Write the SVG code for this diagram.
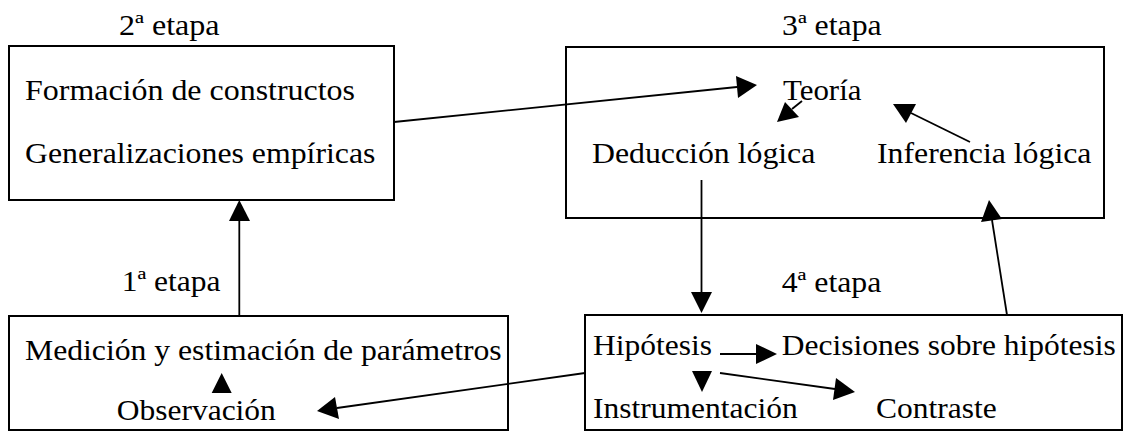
<svg xmlns="http://www.w3.org/2000/svg" width="1126" height="431" viewBox="0 0 1126 431">
<rect width="1126" height="431" fill="#fff"/>
<g id="etapa2">
<rect x="9" y="46" width="385" height="154" fill="#fff" stroke="#000" stroke-width="2"/>
<text font-family="Liberation Serif" font-size="30" transform="translate(119,35) scale(1.07,1)">2ª etapa</text>
<text font-family="Liberation Serif" font-size="30" transform="translate(25,100) scale(1.065,1)">Formación de constructos</text>
<text font-family="Liberation Serif" font-size="30" transform="translate(25,163) scale(1.06,1)">Generalizaciones empíricas</text>
</g>
<g id="etapa3">
<rect x="566" y="47" width="538" height="171" fill="#fff" stroke="#000" stroke-width="2"/>
<text font-family="Liberation Serif" font-size="30" transform="translate(782,35) scale(1.06,1)">3ª etapa</text>
<text font-family="Liberation Serif" font-size="30" transform="translate(783,99.5) scale(1.03,1)">Teoría</text>
<text font-family="Liberation Serif" font-size="30" transform="translate(592,163) scale(1.06,1)">Deducción lógica</text>
<text font-family="Liberation Serif" font-size="30" transform="translate(877,163) scale(1.06,1)">Inferencia lógica</text>
</g>
<g id="etapa1">
<rect x="9" y="316" width="499" height="114" fill="#fff" stroke="#000" stroke-width="2"/>
<text font-family="Liberation Serif" font-size="30" transform="translate(121.7,291) scale(1.05,1)">1ª etapa</text>
<text font-family="Liberation Serif" font-size="30" transform="translate(25,360) scale(1.056,1)">Medición y estimación de parámetros</text>
<text font-family="Liberation Serif" font-size="30" transform="translate(116.7,420) scale(1.05,1)">Observación</text>
</g>
<g id="etapa4">
<rect x="585" y="315" width="537" height="115" fill="#fff" stroke="#000" stroke-width="2"/>
<text font-family="Liberation Serif" font-size="30" transform="translate(781.7,291.7) scale(1.06,1)">4ª etapa</text>
<text font-family="Liberation Serif" font-size="30" transform="translate(593,355) scale(1.05,1)">Hipótesis</text>
<text font-family="Liberation Serif" font-size="30" transform="translate(781.7,355) scale(1.05,1)">Decisiones sobre hipótesis</text>
<text font-family="Liberation Serif" font-size="30" transform="translate(593,418) scale(1.05,1)">Instrumentación</text>
<text font-family="Liberation Serif" font-size="30" transform="translate(876,418) scale(1.05,1)">Contraste</text>
</g>
<g id="connectors" stroke="#000" stroke-width="1.8" fill="#000">
<line x1="394" y1="122" x2="737" y2="87"/>
<polygon stroke="none" points="757,85 736,76 738,98"/>
<line x1="802" y1="101" x2="792" y2="109"/>
<polygon stroke="none" points="777,122 785,102 799,117"/>
<line x1="970" y1="142" x2="911" y2="113"/>
<polygon stroke="none" points="893,104 916,104 906,123"/>
<line x1="701.5" y1="180" x2="701.5" y2="293"/>
<polygon stroke="none" points="701.5,313 691,292 712,292"/>
<line x1="1007" y1="315" x2="992" y2="220"/>
<polygon stroke="none" points="989,200 1002,219 981,222"/>
<line x1="239.3" y1="316" x2="239.3" y2="220"/>
<polygon stroke="none" points="239.3,200 229,221 250,221"/>
<line x1="720" y1="354" x2="757" y2="354"/>
<polygon stroke="none" points="777,354 756,344 756,364"/>
<polygon stroke="none" points="702,392 692,371 712,371"/>
<line x1="720" y1="373" x2="835" y2="389"/>
<polygon stroke="none" points="855,392 836,378 833,400"/>
<line x1="585" y1="373" x2="337" y2="408"/>
<polygon stroke="none" points="317,411 335,397 339,419"/>
<polygon stroke="none" points="221.7,373 211.7,393 231.7,393"/>
</g>
</svg>
